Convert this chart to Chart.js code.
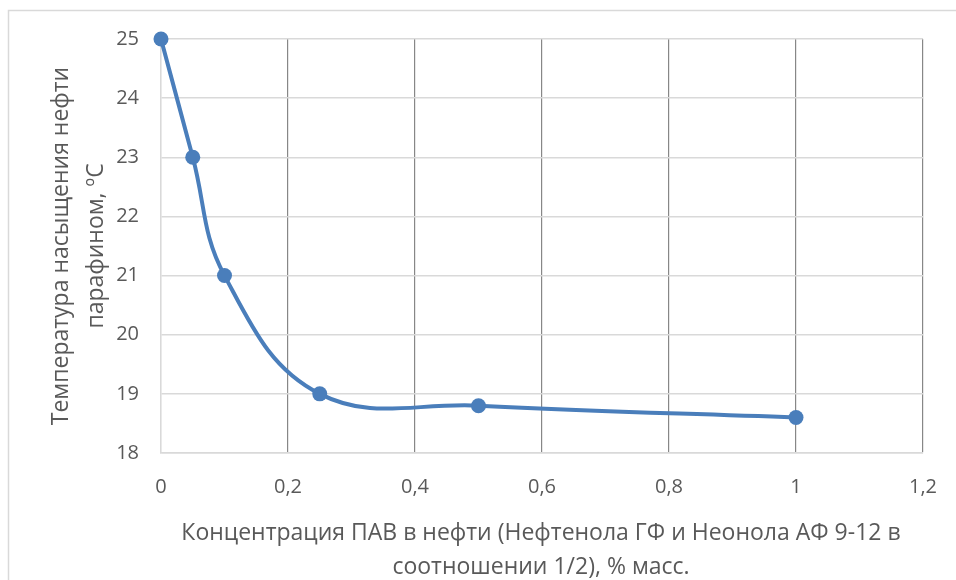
<!DOCTYPE html>
<html>
<head>
<meta charset="utf-8">
<style>
  html, body { margin: 0; padding: 0; background: #ffffff; }
  #wrap { position: relative; width: 956px; height: 580px; }
</style>
<script src="https://cdn.jsdelivr.net/npm/chart.js@4"></script>
</head>
<body>
<div id="wrap"><canvas id="c" width="956" height="580"></canvas></div>
<script>
// Surfactant concentration, % mass
const concentration = [0, 0.05, 0.1, 0.25, 0.5, 1];
// Paraffin saturation temperature of the oil, °C
const saturationTemp = [25, 23, 21, 19, 18.8, 18.6];
// Axis tick labels (decimal comma)
const xTickLabels = ['0', '0,2', '0,4', '0,6', '0,8', '1', '1,2'];
const yTickLabels = ['18', '19', '20', '21', '22', '23', '24', '25'];

const yTitleLines = ['Температура насыщения нефти', 'парафином, ºС'];
const xTitleLines = ['Концентрация ПАВ в нефти (Нефтенола ГФ и Неонола АФ 9-12 в', 'соотношении 1/2), % масс.'];

const FONT = '"Open Sans", "Noto Sans", sans-serif';
const TEXT = '#595959';
const LIGHT = '#d9d9d9';
const DARK = '#878787';

const PAD = { left: 8, top: 39, right: 33, bottom: 0 };
const PLOT_LEFT = 161, PLOT_BOTTOM = 453;

// Outer frame and the two axis titles
const decorations = {
  id: 'decorations',
  beforeDraw(chart) {
    const ctx = chart.ctx;
    ctx.save();
    ctx.strokeStyle = LIGHT;
    ctx.lineWidth = 1.5;
    ctx.strokeRect(8.5, 10.5, 960, 600);
    ctx.restore();
  },
  afterDraw(chart) {
    const ctx = chart.ctx;
    const area = chart.chartArea;
    ctx.save();
    ctx.fillStyle = TEXT;
    ctx.font = '23px ' + FONT;
    ctx.textAlign = 'center';
    ctx.textBaseline = 'middle';
    ctx.fillText(xTitleLines[0], 541, 533);
    ctx.fillText(xTitleLines[1], 541, 567);
    const cy = (area.top + area.bottom) / 2;
    ctx.save();
    ctx.translate(61, cy);
    ctx.rotate(-Math.PI / 2);
    ctx.fillText(yTitleLines[0], 0, 0);
    ctx.restore();
    ctx.save();
    ctx.translate(96, cy);
    ctx.rotate(-Math.PI / 2);
    ctx.fillText(yTitleLines[1], 0, 0);
    ctx.restore();
    ctx.restore();
  }
};

new Chart(document.getElementById('c'), {
  type: 'line',
  data: {
    datasets: [{
      data: concentration.map((x, i) => ({ x: x, y: saturationTemp[i] })),
      borderColor: '#4a7ebb',
      backgroundColor: '#4a7ebb',
      borderWidth: 4,
      pointRadius: 7.5,
      pointHoverRadius: 7.5,
      pointBorderWidth: 0,
      tension: 0.4,
      clip: false
    }]
  },
  options: {
    responsive: false,
    animation: false,
    events: [],
    layout: { padding: PAD, autoPadding: false },
    plugins: { legend: { display: false }, tooltip: { enabled: false } },
    scales: {
      x: {
        type: 'linear',
        min: 0, max: 1.2,
        afterFit(scale) {
          scale.height = 580 - PLOT_BOTTOM - PAD.bottom;
          // let the layout padding alone decide the plot edges
          scale.paddingLeft = 0;
          scale.paddingRight = 0;
        },
        ticks: {
          stepSize: 0.2,
          padding: 22,
          color: TEXT,
          font: { family: FONT, size: 20 },
          callback: (v, i) => xTickLabels[i]
        },
        grid: {
          drawTicks: false,
          lineWidth: 1.2,
          color: (ctx) => (ctx.tick && ctx.tick.value === 0 ? LIGHT : DARK)
        },
        border: { color: LIGHT, width: 1.5 }
      },
      y: {
        type: 'linear',
        min: 18, max: 25,
        afterFit(scale) {
          scale.width = PLOT_LEFT - PAD.left;
          scale.paddingTop = 0;
          scale.paddingBottom = 0;
        },
        ticks: {
          stepSize: 1,
          padding: 22,
          color: TEXT,
          font: { family: FONT, size: 20 },
          callback: (v, i) => yTickLabels[i]
        },
        grid: { drawTicks: false, color: LIGHT, lineWidth: 1.5 },
        border: { color: LIGHT, width: 1.5 }
      }
    }
  },
  plugins: [decorations]
});
</script>
</body>
</html>
